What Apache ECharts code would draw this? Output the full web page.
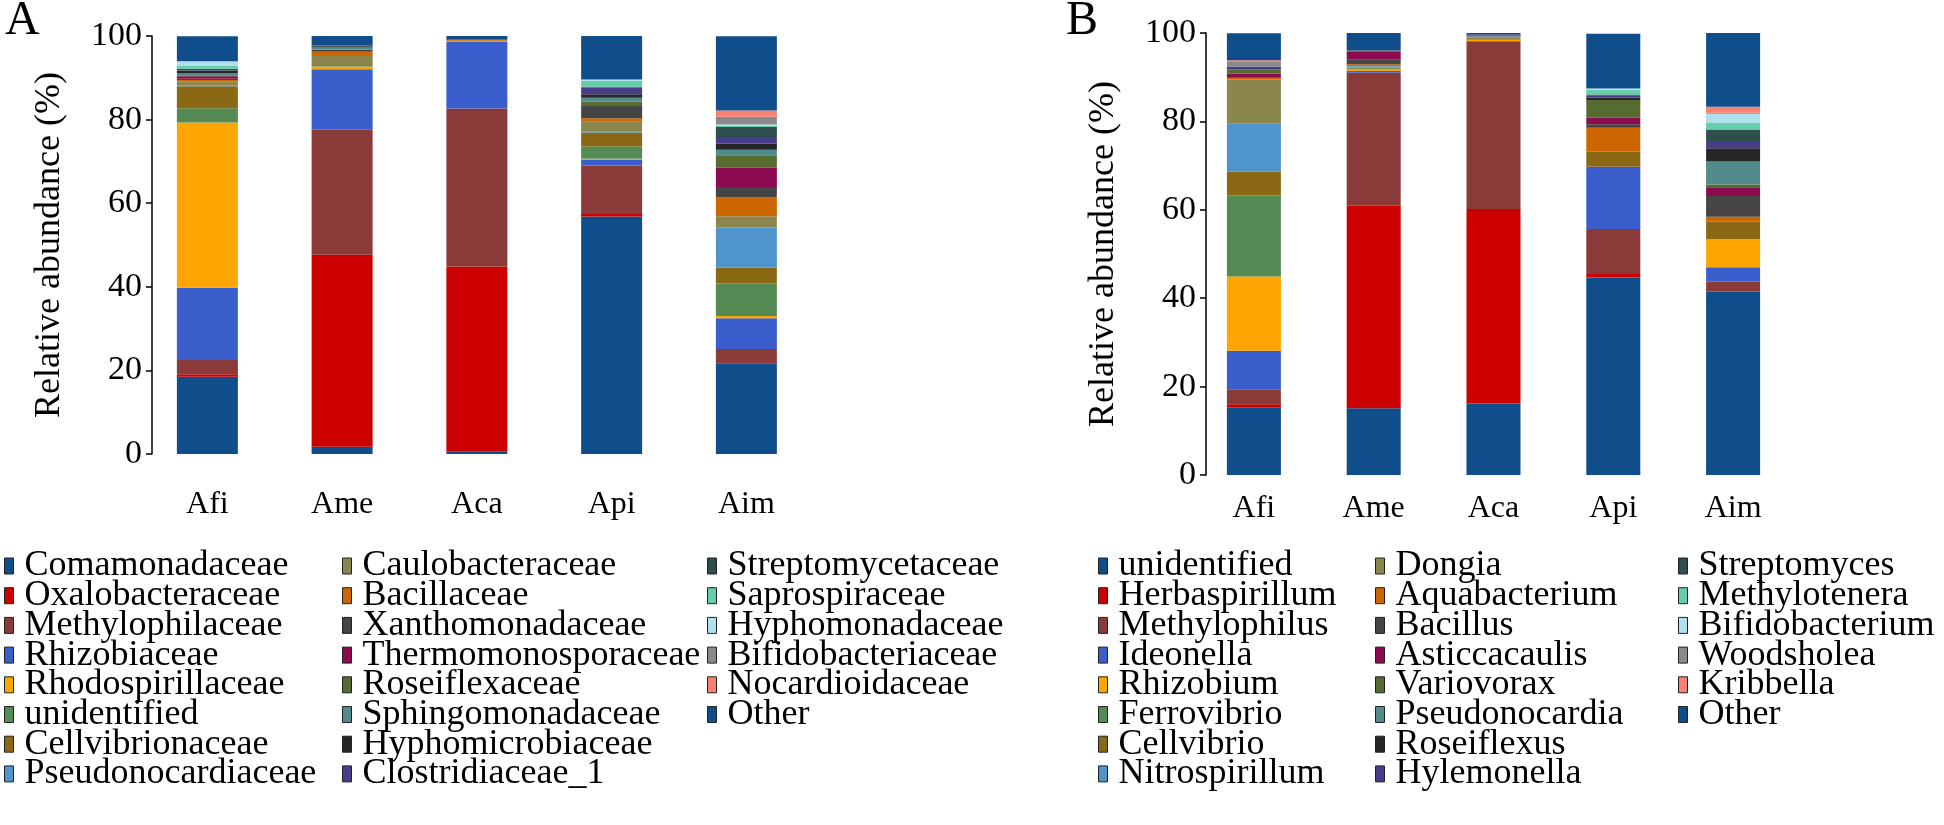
<!DOCTYPE html>
<html>
<head>
<meta charset="utf-8">
<script src="https://cdn.jsdelivr.net/npm/echarts@6/dist/echarts.min.js"></script>
<style>
  html, body { margin: 0; padding: 0; background: #fff; }
  #chart { width: 1944px; height: 825px; }
</style>
</head>
<body>
<div id="chart"></div>
<script>
// samples (x categories)
const samples = ["Afi", "Ame", "Aca", "Api", "Aim"];

// panel A: families, bottom of the stack first
const taxaA = ["Comamonadaceae", "Oxalobacteraceae", "Methylophilaceae", "Rhizobiaceae",
  "Rhodospirillaceae", "unidentified", "Cellvibrionaceae", "Pseudonocardiaceae",
  "Caulobacteraceae", "Bacillaceae", "Xanthomonadaceae", "Thermomonosporaceae",
  "Roseiflexaceae", "Sphingomonadaceae", "Hyphomicrobiaceae", "Clostridiaceae_1",
  "Streptomycetaceae", "Saprospiraceae", "Hyphomonadaceae", "Bifidobacteriaceae",
  "Nocardioidaceae", "Other"];

// panel B: genera
const taxaB = ["unidentified", "Herbaspirillum", "Methylophilus", "Ideonella",
  "Rhizobium", "Ferrovibrio", "Cellvibrio", "Nitrospirillum",
  "Dongia", "Aquabacterium", "Bacillus", "Asticcacaulis",
  "Variovorax", "Pseudonocardia", "Roseiflexus", "Hylemonella",
  "Streptomyces", "Methylotenera", "Bifidobacterium", "Woodsholea",
  "Kribbella", "Other"];

const palette = ["#104E8B", "#CD0000", "#8B3A3A", "#3A5FCD", "#FFA500", "#548B54",
  "#8B6914", "#4F94CD", "#8B864E", "#CD6600", "#454545", "#8B0A50",
  "#556B2F", "#528B8B", "#262626", "#483D8B", "#2F4F4F", "#66CDAA",
  "#B2DFEE", "#8B8989", "#FA8072", "#104E8B"];

// relative abundance (%) per sample, same order as taxaA
const afiA = [18.5, 0.6, 3.4, 17.3, 39.5, 3.4, 5.3, 0.2, 1.0, 0.3, 0.3, 0.6, 0.2, 0.55, 0.5, 0.1, 0.4, 0.8, 1.0, 0, 0, 6.0];
const ameA = [1.75, 45.9, 29.9, 14.5, 0.64, 0.4, 0, 0, 2.15, 1.0, 0.55, 0, 0, 0.45, 0.3, 0, 0.2, 0, 0, 0, 0, 2.3];
const acaA = [0.55, 44.3, 37.8, 15.9, 0.3, 0, 0, 0, 0, 0.25, 0, 0, 0, 0, 0, 0, 0.2, 0, 0, 0, 0, 0.7];
const apiA = [56.8, 0.6, 11.6, 1.35, 0.3, 2.9, 3.35, 0.2, 2.4, 0.8, 2.95, 0, 1.0, 1.0, 0.8, 1.6, 0.2, 1.45, 0.3, 0, 0, 10.4];
const aimA = [21.7, 0, 3.4, 7.35, 0.55, 7.8, 3.8, 9.6, 2.7, 4.6, 2.4, 4.6, 2.95, 1.35, 1.45, 1.35, 2.6, 0.4, 0.2, 1.9, 1.45, 17.8];

// same order as taxaB
const afiB = [15.3, 0.7, 3.4, 8.7, 16.8, 18.4, 5.3, 11.0, 9.9, 0.4, 0, 0.9, 1.0, 0, 0, 0.6, 0, 0, 0, 1.05, 0.4, 6.1];
const ameB = [15.1, 45.8, 30.1, 0.4, 0.35, 0.3, 0.1, 0.3, 0.3, 0.2, 1.0, 1.9, 0.2, 0, 0, 0, 0, 0, 0, 0, 0, 4.0];
const acaB = [16.2, 44.0, 37.8, 0.2, 0.2, 0.2, 0, 0, 0.3, 0.2, 0, 0.1, 0, 0.2, 0, 0.3, 0, 0, 0, 0, 0, 0.3];
const apiB = [44.7, 0.75, 10.2, 14.1, 0, 0, 3.4, 0, 0, 5.4, 0.8, 1.5, 4.0, 0, 0.55, 0.5, 0.2, 1.05, 0.3, 0, 0, 12.4];
const aimB = [41.5, 0, 2.25, 3.25, 6.4, 0, 3.9, 0, 0, 1.1, 4.75, 1.8, 0.8, 5.2, 3.0, 1.6, 2.6, 1.6, 2.0, 0.2, 1.35, 16.7];

const yTicks = [0, 20, 40, 60, 80, 100];

const serif = "'Liberation Serif', 'Times New Roman', serif";
const valsA = [afiA, ameA, acaA, apiA, aimA];
const valsB = [afiB, ameB, acaB, apiB, aimB];

let myChart = echarts.init(document.getElementById("chart"));

function yAxisCfg(idx) {
  return {
    type: "value", gridIndex: idx, min: yTicks[0], max: yTicks[yTicks.length - 1], interval: 20,
    offset: -12,
    name: "Relative abundance (%)", nameLocation: "middle", nameGap: 84,
    nameTextStyle: { fontFamily: serif, fontSize: 36, color: "#000" },
    axisLine: { show: true, lineStyle: { color: "#000", width: 1.5 } },
    axisTick: { show: true, length: 6, lineStyle: { color: "#000", width: 1.5 } },
    axisLabel: { margin: 10, fontFamily: serif, fontSize: 34, color: "#000" },
    splitLine: { show: false }
  };
}

function xAxisCfg(idx, margin) {
  return {
    type: "category", gridIndex: idx, data: samples,
    axisLine: { show: false }, axisTick: { show: false },
    axisLabel: { margin: margin, fontFamily: serif, fontSize: 32, color: "#000" }
  };
}

function legendCol(names, taxa, left) {
  return {
    orient: "vertical", left: left, top: 548, height: 275, padding: 0,
    itemWidth: 9, itemHeight: 16, itemGap: -6.3, icon: "rect", selectedMode: false,
    textStyle: { fontFamily: serif, fontSize: 36, color: "#000", padding: [0, 0, 0, 6] },
    data: names.map(function (n) {
      return { name: n, itemStyle: { color: palette[taxa.indexOf(n)], borderColor: "#222", borderWidth: 1 } };
    })
  };
}

function barSeries(taxa, vals, idx, width) {
  return taxa.map(function (name, i) {
    return {
      name: name, type: "bar", stack: "s" + idx, xAxisIndex: idx, yAxisIndex: idx,
      barWidth: width, itemStyle: { color: palette[i] },
      data: vals.map(function (v) { return v[i]; })
    };
  });
}

myChart.setOption({
  animation: false,
  backgroundColor: "#fff",
  title: [
    { text: "A", left: 5, top: -3, padding: 0, textStyle: { fontFamily: serif, fontSize: 48, fontWeight: "normal", color: "#000" } },
    { text: "B", left: 1066, top: -3, padding: 0, textStyle: { fontFamily: serif, fontSize: 48, fontWeight: "normal", color: "#000" } }
  ],
  grid: [
    { left: 140, top: 36, width: 673.75, height: 418 },
    { left: 1194, top: 33, width: 599, height: 442 }
  ],
  xAxis: [xAxisCfg(0, 35), xAxisCfg(1, 18)],
  yAxis: [yAxisCfg(0), yAxisCfg(1)],
  legend: [
    legendCol(taxaA.slice(0, 8), taxaA, 4),
    legendCol(taxaA.slice(8, 16), taxaA, 342),
    legendCol(taxaA.slice(16), taxaA, 707),
    legendCol(taxaB.slice(0, 8), taxaB, 1098),
    legendCol(taxaB.slice(8, 16), taxaB, 1375),
    legendCol(taxaB.slice(16), taxaB, 1678)
  ],
  series: barSeries(taxaA, valsA, 0, 61).concat(barSeries(taxaB, valsB, 1, 54))
});
</script>
</body>
</html>
